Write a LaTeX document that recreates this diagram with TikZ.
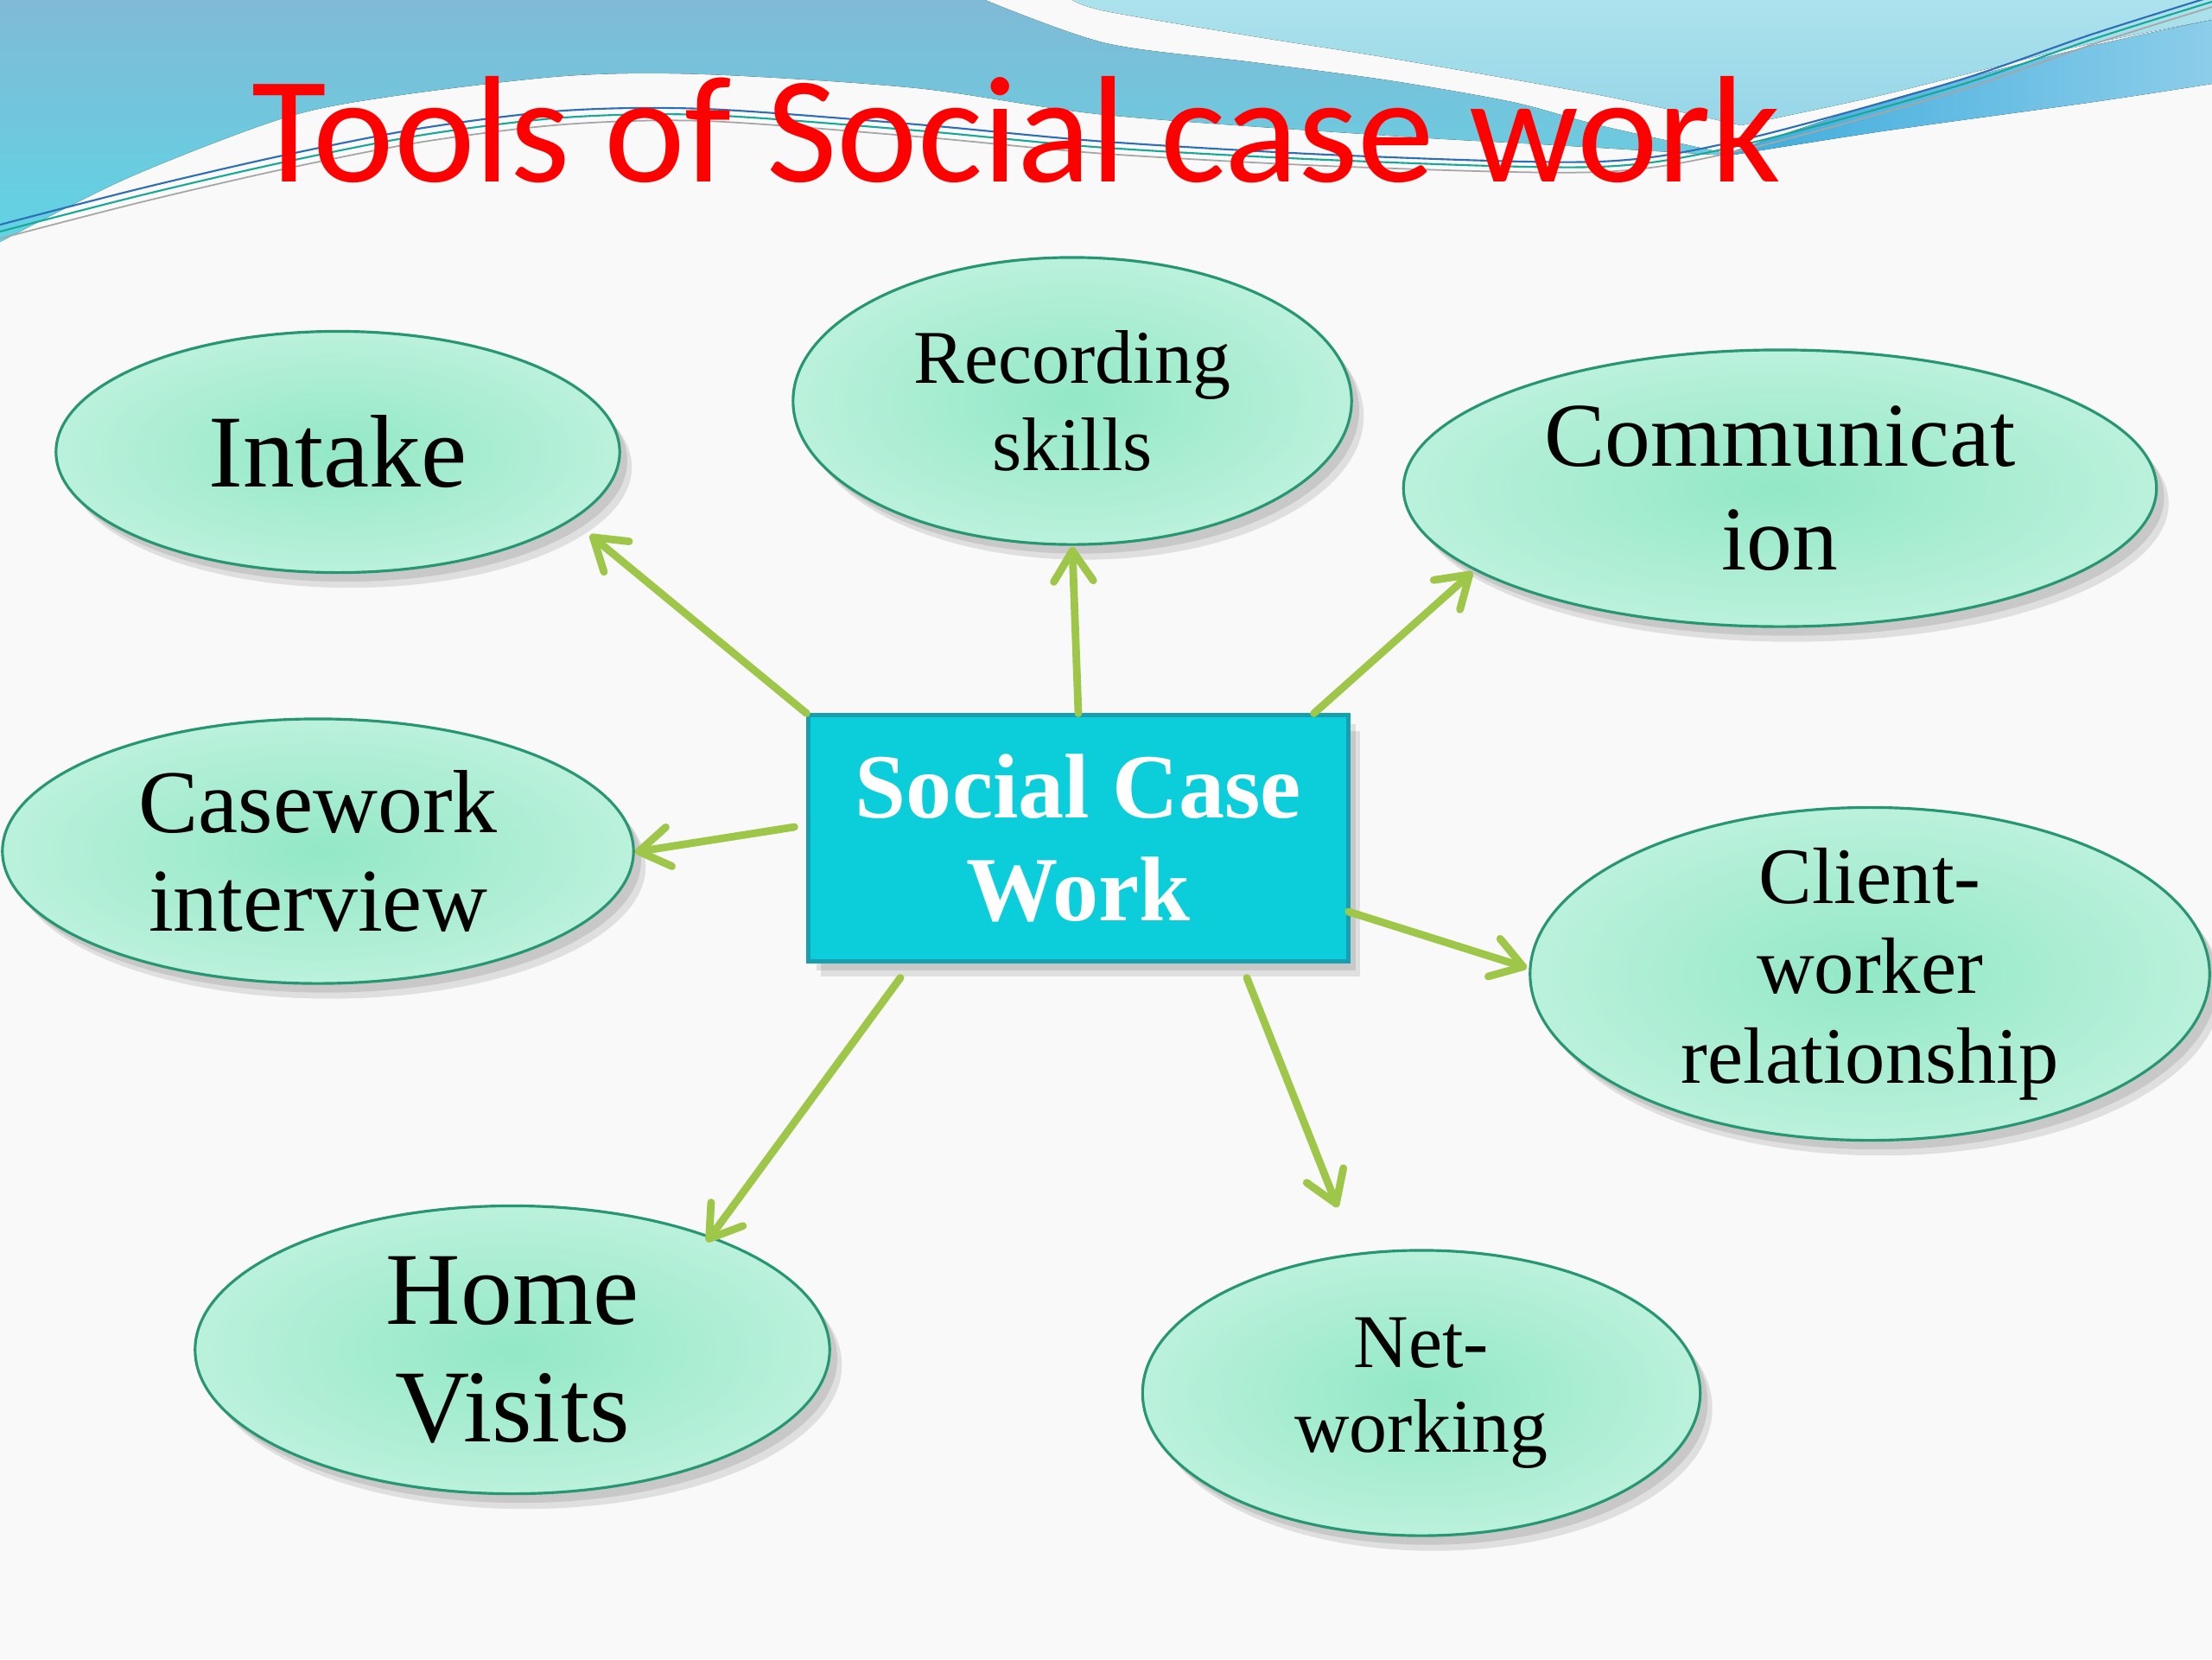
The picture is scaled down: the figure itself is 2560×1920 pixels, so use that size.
\documentclass[tikz,border=0pt]{standalone}
\usepackage{fontspec}
\setmainfont{Liberation Serif}
\newfontfamily\titlefont{Carlito}
\usepackage{graphicx}
\usetikzlibrary{arrows.meta,shapes.geometric,calc}

\definecolor{bgc}{RGB}{249,249,249}
\definecolor{bluetop}{RGB}{128,186,214}
\definecolor{bluebot}{RGB}{96,212,228}
\definecolor{cyanlt}{RGB}{172,226,236}
\definecolor{cyanltb}{RGB}{150,214,232}
\definecolor{stripeA}{RGB}{62,172,220}
\definecolor{stripeB}{RGB}{140,205,234}
\definecolor{mintin}{RGB}{146,232,198}
\definecolor{mintout}{RGB}{228,250,242}
\definecolor{mintline}{RGB}{40,150,115}
\definecolor{boxfill}{RGB}{12,206,218}
\definecolor{boxline}{RGB}{22,160,175}
\definecolor{arrgreen}{RGB}{158,198,72}
\definecolor{titlered}{RGB}{255,0,0}
\definecolor{lineblue}{RGB}{46,110,180}
\definecolor{lineteal}{RGB}{26,168,150}

\pgfdeclareradialshading{mintshade}{\pgfpoint{0bp}{0bp}}{color(0bp)=(mintin); color(50bp)=(mintout); color(75bp)=(mintout)}

\tikzset{
  softshadow/.style={
    preaction={fill=black, opacity=0.10, transform canvas={shift={(4pt,-5pt)}}},
    preaction={fill=black, opacity=0.10, transform canvas={shift={(2.5pt,-3pt)}}}},
  tool/.style={ellipse, softshadow, draw=mintline, line width=0.9pt, shading=mintshade,
    inner sep=0pt, outer sep=0pt, align=center, text=black},
  hub/.style={rectangle, softshadow, draw=boxline, line width=1.4pt, fill=boxfill,
    inner sep=0pt, align=center, text=white,
    font={\bfseries\fontsize{30.2}{33.6}\selectfont}},
  arr/.style={draw=arrgreen, line width=2.5pt, line cap=round,
    -{Straight Barb[length=10pt,width=13pt,round]}},
  big/.style={font={\fontsize{34}{38.7}\selectfont}},
}

\begin{document}
\begin{tikzpicture}[x=0.01cm, y=-0.01cm]
\useasboundingbox (0,0) rectangle (2560,1920);

% background
\fill[bgc] (0,0) rectangle (2560,1920);
% medium blue region top-left
\fill[top color=bluetop, bottom color=bluebot]
  (0,0) -- (1140,0)
  -- plot[smooth] coordinates {(1140,0) (1280,50) (1450,72) (1607,93) (1750,118) (1851,145) (2000,178)}
  -- plot[smooth] coordinates {(2000,180) (1800,168) (1607,157) (1280,133) (1061,102) (816,86) (653,88) (450,112) (327,137) (150,205) (0,280)}
  -- cycle;
% light cyan region top-right
\fill[top color=cyanlt, bottom color=cyanltb]
  (1241,0)
  -- plot[smooth] coordinates {(1241,0) (1280,13) (1450,42) (1607,67) (1851,110) (2015,145)}
  -- plot[smooth] coordinates {(2015,145) (2178,110) (2400,55) (2560,23)}
  -- (2560,0) -- cycle;
% dark blue stripe
\fill[left color=stripeA, right color=stripeB]
  plot[smooth] coordinates {(1995,179) (2178,118) (2400,58) (2560,23)}
  -- (2560,97)
  -- plot[smooth] coordinates {(2560,97) (2423,118) (2178,152) (1995,181)}
  -- cycle;
% thin wave lines
\draw[lineblue, line width=0.6pt] plot[smooth] coordinates {(0,260) (163,218) (327,180) (490,148) (653,128) (816,126) (1061,144) (1280,164) (1560,180) (1851,187) (2015,162) (2260,95) (2420,40) (2560,-4)};
\draw[lineteal, line width=0.6pt] plot[smooth] coordinates {(0,268) (163,226) (327,188) (490,156) (653,136) (816,133) (1061,151) (1280,171) (1560,186) (1851,193) (2015,168) (2260,101) (2420,46) (2560,2)};
\draw[gray!70, line width=0.5pt] plot[smooth] coordinates {(0,276) (163,234) (327,196) (490,164) (653,144) (816,140) (1061,158) (1280,178) (1560,193) (1851,199) (2015,174) (2260,107) (2420,52) (2560,8)};

% title
\node[anchor=base west, inner sep=0pt, text=titlered] (title) at (291,210)
  {\resizebox{17.69cm}{1.22cm}{\titlefont Tools of Social case work}};

% central box
\node[hub, minimum width=6.24cm, minimum height=2.84cm] (hub) at (1248,970) {Social Case\\Work};

% tools
\node[tool, big, minimum width=6.52cm, minimum height=2.79cm] (intake) at (391,523) {Intake};
\node[tool, font={\fontsize{25}{28.5}\selectfont}, minimum width=6.46cm, minimum height=3.32cm] (recording) at (1241,464) {Recording\\skills};
\node[tool, font={\fontsize{30}{34}\selectfont}, minimum width=8.71cm, minimum height=3.20cm] (comm) at (2060,565) {Communicat\\ion};
\node[tool, font={\fontsize{29.5}{32.5}\selectfont}, minimum width=7.30cm, minimum height=3.06cm] (casework) at (368,985) {Casework\\interview};
\node[tool, font={\fontsize{26.3}{29.6}\selectfont}, inner ysep=-4pt, minimum width=7.86cm, minimum height=3.85cm] (client) at (2164,1127) {Client-\\worker\\relationship};
\node[tool, big, minimum width=7.34cm, minimum height=3.33cm] (home) at (593,1562) {Home\\Visits};
\node[tool, font={\fontsize{25}{28}\selectfont}, minimum width=6.45cm, minimum height=3.30cm] (networking) at (1645,1612) {Net-\\working};

% arrow end points
\coordinate (tipIntake) at (683,619);
\coordinate (tipRec) at (1241,633);
\coordinate (tipComm) at (1704,662);
\coordinate (tipCase) at (735,986);
\coordinate (tipClient) at (1767,1120);
\coordinate (tipHome) at (818,1437);
\coordinate (tipNet) at (1548,1397);

\draw[arr] (hub.north west) -- (tipIntake);
\draw[arr] (hub.north) -- (tipRec);
\draw[arr] ($(hub.north east)+(-42,0)$) -- (tipComm);
\draw[arr] ($(hub.west)+(-14,-13)$) -- (tipCase);
\draw[arr] ($(hub.east)+(-2,85)$) -- (tipClient);
\draw[arr] ($(hub.south)+(-206,17)$) -- (tipHome);
\draw[arr] ($(hub.south)+(195,17)$) -- (tipNet);

\end{tikzpicture}
\end{document}
